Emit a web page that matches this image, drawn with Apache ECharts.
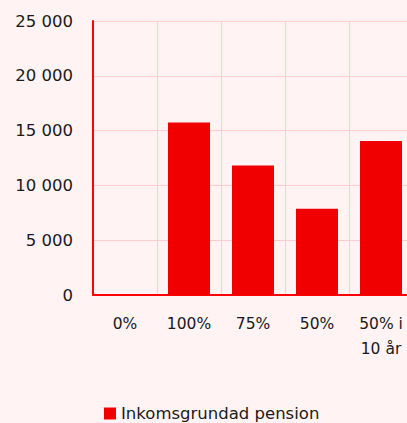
<!DOCTYPE html>
<html>
<head>
<meta charset="utf-8">
<script src="https://cdn.jsdelivr.net/npm/echarts@6/dist/echarts.min.js"></script>
<style>
  html, body { margin: 0; padding: 0; background: #fff3f3; overflow: hidden; }
  /* diagrammet är lite bredare än fönstret, höger kant beskärs som i originalet */
  #chart { width: 413px; height: 423px; }
</style>
</head>
<body>
<div id="chart"></div>
<script>
// kategorier och värden
const categories = ['0%', '100%', '75%', '50%', '50% i\n10 år'];
const pension = [0, 15750, 11820, 7880, 14040];
const seriesName = 'Inkomsgrundad pension';

const font = 'DejaVu Sans';
const chart = echarts.init(document.getElementById('chart'), null, { renderer: 'svg' });

chart.setOption({
  backgroundColor: '#fff3f3',
  textStyle: { fontFamily: font },
  animation: false,
  grid: { left: 93, top: 21, right: 0, bottom: 128, containLabel: false },
  legend: {
    data: [seriesName],
    left: 104,
    top: 405,
    padding: 0,
    itemWidth: 12,
    itemHeight: 12,
    itemGap: 6,
    icon: 'rect',
    textStyle: { fontFamily: font, fontSize: 16.5, color: '#1a1a1a' }
  },
  xAxis: {
    type: 'category',
    data: categories,
    axisLine: { show: true, lineStyle: { color: '#ff0000', width: 2 } },
    axisTick: { show: false },
    axisLabel: { color: '#1a1a1a', fontSize: 15.5, margin: 16, lineHeight: 25, fontFamily: font },
    splitLine: { show: true, lineStyle: { color: '#ffcccc', width: 1 } }
  },
  yAxis: {
    type: 'value',
    min: 0,
    max: 25000,
    interval: 5000,
    axisLine: { show: true, lineStyle: { color: '#ff0000', width: 2 } },
    axisTick: { show: false },
    axisLabel: {
      color: '#1a1a1a', fontSize: 16.5, margin: 20, fontFamily: font,
      formatter: v => String(v).replace(/\B(?=(\d{3})+(?!\d))/g, ' ')
    },
    splitLine: { lineStyle: { color: '#ffcccc', width: 1 } }
  },
  series: [{
    name: seriesName,
    type: 'bar',
    data: pension,
    barWidth: 42,
    itemStyle: { color: '#f00000' }
  }]
});
</script>
</body>
</html>
